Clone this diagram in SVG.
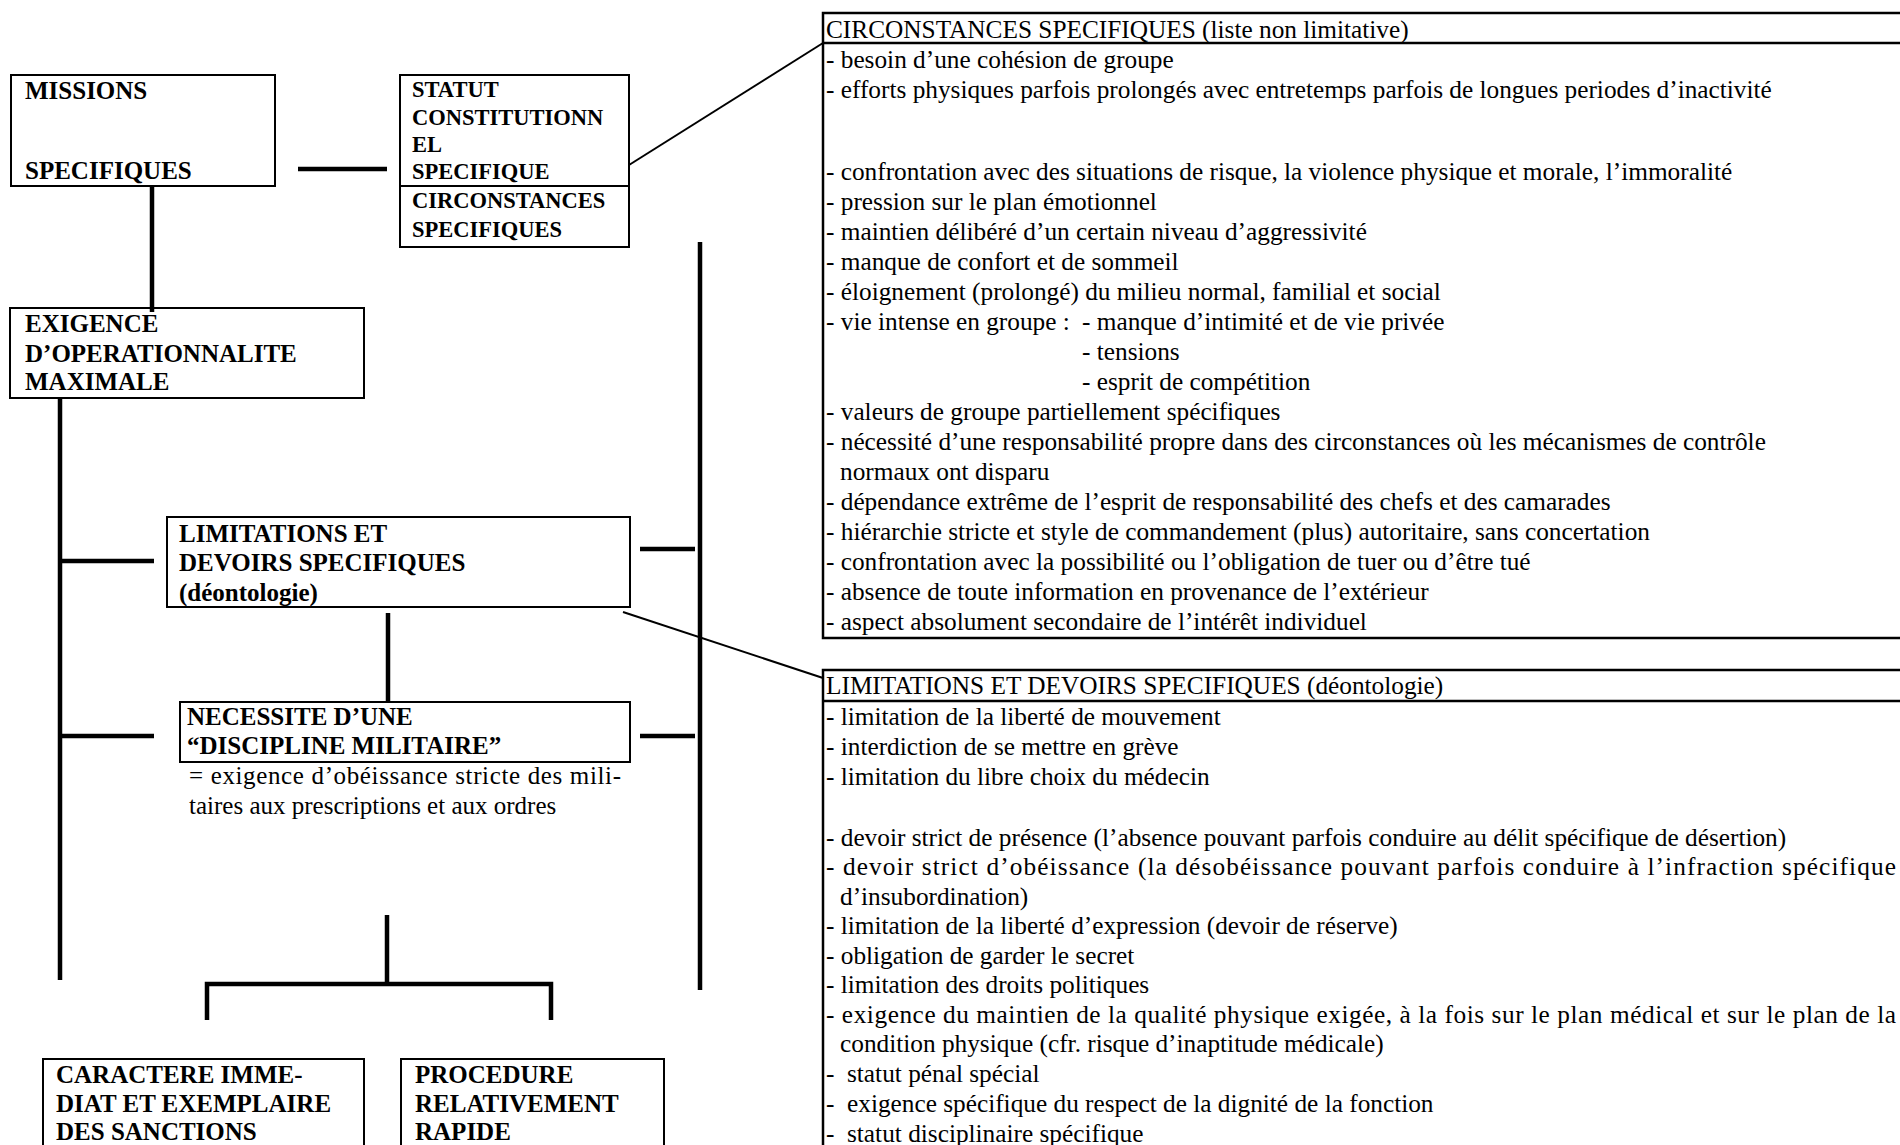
<svg xmlns="http://www.w3.org/2000/svg" width="1900" height="1145" viewBox="0 0 1900 1145">
<style>
text { font-family: "Liberation Serif", "Times New Roman", serif; fill: #000; }
.b { font-weight: bold; font-size: 25px; }
.s { font-weight: bold; font-size: 22.5px; }
.r { font-size: 25.3px; }
.box { fill: #fff; stroke: #000; stroke-width: 2; }
.big { fill: #fff; stroke: #000; stroke-width: 2.5; }
.thick { stroke: #000; stroke-width: 4.5; fill: none; stroke-linecap: butt; }
.thin { stroke: #000; stroke-width: 2; fill: none; }
</style>
<rect width="1900" height="1145" fill="#fff"/>

<g id="connectors">
  <line class="thick" x1="298" y1="169" x2="387" y2="169"/>
  <line class="thick" x1="152" y1="186" x2="152" y2="312"/>
  <line class="thick" x1="60" y1="398" x2="60" y2="980"/>
  <line class="thick" x1="60" y1="561" x2="154" y2="561"/>
  <line class="thick" x1="60" y1="736" x2="154" y2="736"/>
  <line class="thick" x1="700" y1="242" x2="700" y2="990"/>
  <line class="thick" x1="640" y1="549" x2="695" y2="549"/>
  <line class="thick" x1="640" y1="736" x2="695" y2="736"/>
  <line class="thick" x1="388" y1="613" x2="388" y2="701"/>
  <line class="thick" x1="387" y1="915" x2="387" y2="985"/>
  <polyline class="thick" points="207,1020 207,984 551,984 551,1020"/>
  <line class="thin" x1="629" y1="165" x2="823" y2="43"/>
  <line class="thin" x1="623" y1="612" x2="823" y2="678"/>
</g>

<g id="missions">
  <rect class="box" x="11" y="75" width="264" height="111"/>
  <text class="b" x="25" y="99">MISSIONS</text>
  <text class="b" x="25" y="179">SPECIFIQUES</text>
</g>

<g id="statut">
  <rect class="box" x="400" y="75" width="229" height="172"/>
  <line class="thin" x1="400" y1="186" x2="629" y2="186"/>
  <text class="s" x="412" y="97">STATUT</text>
  <text class="s" x="412" y="125">CONSTITUTIONN</text>
  <text class="s" x="412" y="152">EL</text>
  <text class="s" x="412" y="179">SPECIFIQUE</text>
  <text class="s" x="412" y="208">CIRCONSTANCES</text>
  <text class="s" x="412" y="237">SPECIFIQUES</text>
</g>

<g id="exigence">
  <rect class="box" x="10" y="308" width="354" height="90" style="fill:none"/>
  <text class="b" x="25" y="332">EXIGENCE</text>
  <text class="b" x="25" y="362">D’OPERATIONNALITE</text>
  <text class="b" x="25" y="390">MAXIMALE</text>
</g>

<g id="limitations">
  <rect class="box" x="167" y="517" width="463" height="90"/>
  <text class="b" x="179" y="542">LIMITATIONS ET</text>
  <text class="b" x="179" y="571">DEVOIRS SPECIFIQUES</text>
  <text class="b" x="179" y="601">(déontologie)</text>
</g>

<g id="necessite">
  <rect class="box" x="180" y="702" width="450" height="60"/>
  <text class="b" x="187" y="725">NECESSITE D’UNE</text>
  <text class="b" x="187" y="754">“DISCIPLINE MILITAIRE”</text>
  <text class="r" style="font-size:25px" x="189" y="784" textLength="432" lengthAdjust="spacing">= exigence d’obéissance stricte des mili-</text>
  <text class="r" style="font-size:25px" x="189" y="814">taires aux prescriptions et aux ordres</text>
</g>

<g id="caractere">
  <rect class="box" x="43" y="1059" width="321" height="100"/>
  <text class="b" x="56" y="1083">CARACTERE IMME-</text>
  <text class="b" x="56" y="1112">DIAT ET EXEMPLAIRE</text>
  <text class="b" x="56" y="1140">DES SANCTIONS</text>
</g>

<g id="procedure">
  <rect class="box" x="401" y="1059" width="263" height="100"/>
  <text class="b" x="415" y="1083">PROCEDURE</text>
  <text class="b" x="415" y="1112">RELATIVEMENT</text>
  <text class="b" x="415" y="1140">RAPIDE</text>
</g>

<g id="circonstances-list">
  <rect class="big" x="823" y="13" width="1090" height="625"/>
  <line class="big" x1="823" y1="43" x2="1913" y2="43"/>
  <text class="r" x="826" y="38">CIRCONSTANCES SPECIFIQUES (liste non limitative)</text>
  <text class="r" x="826" y="68">- besoin d’une cohésion de groupe</text>
  <text class="r" x="826" y="98">- efforts physiques parfois prolongés avec entretemps parfois de longues periodes d’inactivité</text>
  <text class="r" x="826" y="180">- confrontation avec des situations de risque, la violence physique et morale, l’immoralité</text>
  <text class="r" x="826" y="210">- pression sur le plan émotionnel</text>
  <text class="r" x="826" y="240">- maintien délibéré d’un certain niveau d’aggressivité</text>
  <text class="r" x="826" y="270">- manque de confort et de sommeil</text>
  <text class="r" x="826" y="300">- éloignement (prolongé) du milieu normal, familial et social</text>
  <text class="r" x="826" y="330">- vie intense en groupe :</text>
  <text class="r" x="1082" y="330">- manque d’intimité et de vie privée</text>
  <text class="r" x="1082" y="360">- tensions</text>
  <text class="r" x="1082" y="390">- esprit de compétition</text>
  <text class="r" x="826" y="420">- valeurs de groupe partiellement spécifiques</text>
  <text class="r" x="826" y="450">- nécessité d’une responsabilité propre dans des circonstances où les mécanismes de contrôle</text>
  <text class="r" x="840" y="480">normaux ont disparu</text>
  <text class="r" x="826" y="510">- dépendance extrême de l’esprit de responsabilité des chefs et des camarades</text>
  <text class="r" x="826" y="540">- hiérarchie stricte et style de commandement (plus) autoritaire, sans concertation</text>
  <text class="r" x="826" y="570">- confrontation avec la possibilité ou l’obligation de tuer ou d’être tué</text>
  <text class="r" x="826" y="600">- absence de toute information en provenance de l’extérieur</text>
  <text class="r" x="826" y="630">- aspect absolument secondaire de l’intérêt individuel</text>
</g>

<g id="limitations-list">
  <rect class="big" x="823" y="670" width="1090" height="500"/>
  <line class="big" x1="823" y1="701" x2="1913" y2="701"/>
  <text class="r" x="826" y="694">LIMITATIONS ET DEVOIRS SPECIFIQUES (déontologie)</text>
  <text class="r" x="826" y="725">- limitation de la liberté de mouvement</text>
  <text class="r" x="826" y="755">- interdiction de se mettre en grève</text>
  <text class="r" x="826" y="785">- limitation du libre choix du médecin</text>
  <text class="r" x="826" y="846">- devoir strict de présence (l’absence pouvant parfois conduire au délit spécifique de désertion)</text>
  <text class="r" x="826" y="875" textLength="1070" lengthAdjust="spacing">- devoir strict d’obéissance (la désobéissance pouvant parfois conduire à l’infraction spécifique</text>
  <text class="r" x="840" y="905">d’insubordination)</text>
  <text class="r" x="826" y="934">- limitation de la liberté d’expression (devoir de réserve)</text>
  <text class="r" x="826" y="964">- obligation de garder le secret</text>
  <text class="r" x="826" y="993">- limitation des droits politiques</text>
  <text class="r" x="826" y="1023" textLength="1070" lengthAdjust="spacing">- exigence du maintien de la qualité physique exigée, à la fois sur le plan médical et sur le plan de la</text>
  <text class="r" x="840" y="1052">condition physique (cfr. risque d’inaptitude médicale)</text>
  <text class="r" x="826" y="1082">-<tspan x="847">statut pénal spécial</tspan></text>
  <text class="r" x="826" y="1112">-<tspan x="847">exigence spécifique du respect de la dignité de la fonction</tspan></text>
  <text class="r" x="826" y="1142">-<tspan x="847">statut disciplinaire spécifique</tspan></text>
</g>
</svg>
